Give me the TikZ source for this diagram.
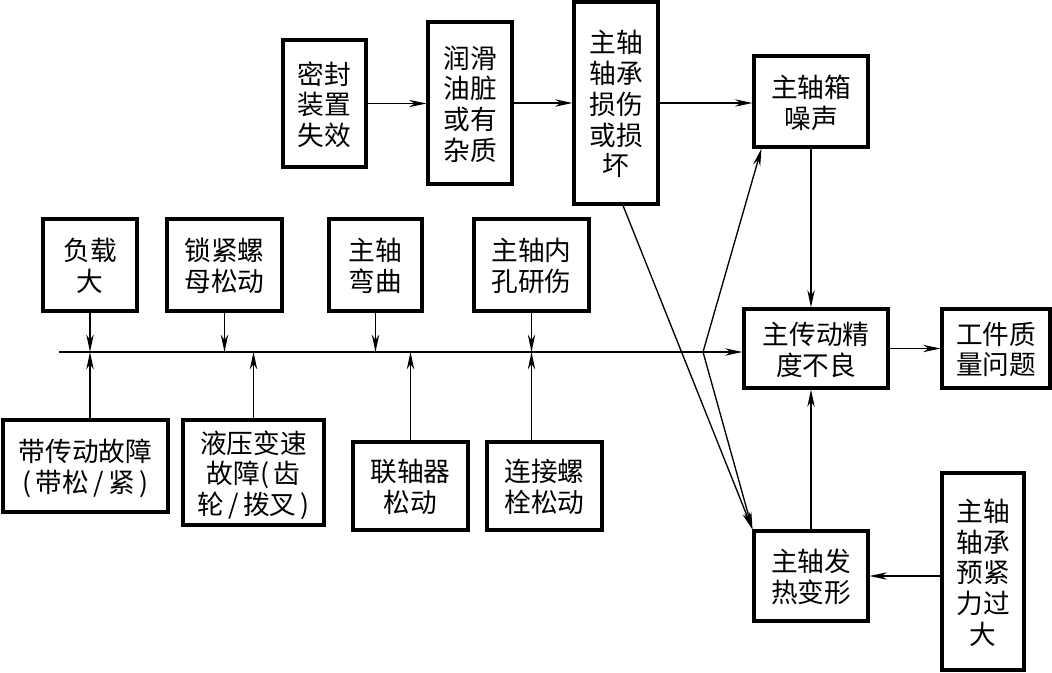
\documentclass[tikz,border=0pt]{standalone}
\usepackage{fontspec}
\newfontfamily\cjk{Noto Sans CJK SC}
\usetikzlibrary{arrows.meta,fit,calc}
\newcommand\tx[1]{\raisebox{-8.4pt}[0pt][0pt]{\begin{tabular}{@{}c@{}}#1\end{tabular}}}
\begin{document}
\begin{tikzpicture}[x=0.75pt,y=-0.75pt,
 box/.style={draw, line width=2.3pt, inner sep=0pt, font=\cjk\fontsize{20pt}{21pt}\selectfont},
 conn/.style={line width=1pt, -{Stealth[length=13pt,width=5.5pt,inset=4pt]}},
 plain/.style={line width=1pt}]
\useasboundingbox (0,0) rectangle (1052,673);
% top chain
\node[box, fit={(283,40) (366,167)}] (mf) {\tx{密封\\装置\\失效}};
\node[box, fit={(428,22) (512,184)}] (rh) {\tx{润滑\\油脏\\或有\\杂质}};
\node[box, fit={(574,2) (658,204)}] (zc) {\tx{主轴\\轴承\\损伤\\或损\\坏}};
\node[box, fit={(754,56) (868,147)}] (zx) {\tx{主轴箱\\噪声}};
\node[box, fit={(744,309) (888,388)}] (cd) {\tx{主传动精\\度不良}};
\node[box, fit={(942,309) (1050,388)}] (gj) {\tx{工件质\\量问题}};
\node[box, fit={(754,531) (868,621)}] (rx) {\tx{主轴发\\热变形}};
\node[box, fit={(942,473) (1024,670)}] (yj) {\tx{主轴\\轴承\\预紧\\力过\\大}};
% upper causes
\node[box, fit={(43,219) (137,311)}] (fz) {\tx{负载\\大}};
\node[box, fit={(167,219) (282,311)}] (sj) {\tx{锁紧螺\\母松动}};
\node[box, fit={(329,219) (422,311)}] (wq) {\tx{主轴\\弯曲}};
\node[box, fit={(474,219) (589,311)}] (nk) {\tx{主轴内\\孔研伤}};
% lower causes
\node[box, fit={(3,420) (168,512)}] (dc) {\tx{带传动故障\\(\,带松\,/\,紧\,)}};
\node[box, fit={(183,420) (324,525)}] (yy) {\tx{液压变速\\故障(\,齿\\轮\,/\,拨叉\,)}};
\node[box, fit={(353,442) (468,530)}] (lz) {\tx{联轴器\\松动}};
\node[box, fit={(487,442) (602,530)}] (lj) {\tx{连接螺\\栓松动}};
% coordinates
\coordinate (S) at (59,352);
\coordinate (J) at (703,352);
\coordinate (zxin) at ($(zx.south west)+(9,0)$);
\coordinate (zcout) at ($(zc.south)+(7,0)$);
% top chain connectors
\draw[conn] (mf.east) -- (mf.east -| rh.west);
\draw[conn] (rh.east) -- (rh.east -| zc.west);
\draw[conn] (zc.east) -- (zc.east -| zx.west);
\draw[conn] (zx.south) -- (zx.south |- cd.north);
\draw[conn] (cd.east) -- (gj.west);
\draw[conn] (rx.north) -- (rx.north |- cd.south);
\draw[conn] (yj.west |- rx.east) -- (rx.east);
% main line
\draw[plain] (S) -- (J);
\draw[conn] (J) -- (J -| cd.west);
\draw[conn] (J) -- (zxin);
\draw[conn] (J) -- (rx.north west);
\draw[conn] (zcout) -- (rx.north west);
% causes
\draw[conn] (fz.south) -- (fz.south |- S);
\draw[conn] (sj.south) -- (sj.south |- S);
\draw[conn] (wq.south) -- (wq.south |- S);
\draw[conn] (nk.south) -- (nk.south |- S);
\draw[conn] (fz.south |- dc.north) -- (fz.south |- S);
\draw[conn] (yy.north) -- (yy.north |- S);
\draw[conn] (lz.north) -- (lz.north |- S);
\draw[conn] (nk.south |- lj.north) -- (nk.south |- S);
\end{tikzpicture}
\end{document}
